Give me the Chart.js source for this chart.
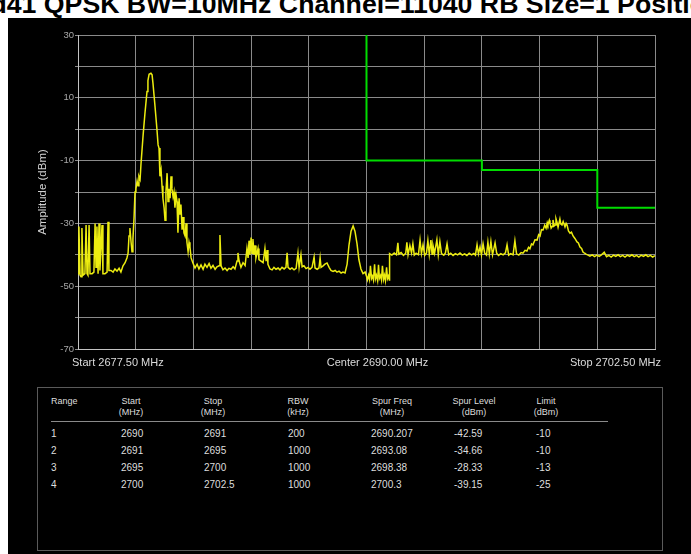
<!DOCTYPE html>
<html>
<head>
<meta charset="utf-8">
<script src="https://cdn.jsdelivr.net/npm/chart.js@4.4.0/dist/chart.umd.min.js"></script>
<style>
    body { margin: 0; width: 691px; height: 554px; background: #fff; overflow: hidden; position: relative; font-family: "Liberation Sans", Arial, sans-serif; }
    #title { position: absolute; top: -9px; left: -60px; white-space: nowrap; font: bold 26.7px/26px "Liberation Sans", Arial, sans-serif; color: #000; }
    #panel { position: absolute; left: 8px; top: 18px; width: 683px; height: 536px; background: #000; }
    #chartBox { position: absolute; left: 0; top: 0; width: 691px; height: 380px; }
    #table { position: absolute; left: 37px; top: 387px; width: 624px; height: 162px; border: 1px solid #5a5a5a; }
    .cell { position: absolute; white-space: nowrap; color: #dedede; }
    .head { font: 9px "Liberation Sans", Arial, sans-serif; text-align: center; }
    .val { font: 10px "Liberation Sans Narrow", "Liberation Sans", Arial, sans-serif; }
    #rule { position: absolute; left: 13px; top: 33px; width: 557px; height: 1px; background: #8a8a8a; }
</style>
</head>
<body>
<div id="title">Band41 QPSK BW=10MHz Channel=11040 RB Size=1 Position</div>
<div id="panel"></div>
<div id="chartBox"><canvas id="spectrum"></canvas></div>
<div id="table"><div id="rule"></div></div>
<script>
    /** Sweep trace (MHz / dBm) */
    const traceMHz = [
        // left noise with bursts
        2677.50, 2677.54, 2677.59, 2677.63, 2677.67, 2677.72, 2677.80, 2677.85, 2677.89, 2677.93, 2677.98,
        2678.02, 2678.11, 2678.19, 2678.24, 2678.28, 2678.32, 2678.37, 2678.41, 2678.45, 2678.54, 2678.58,
        2678.67, 2678.76, 2678.80, 2678.84, 2678.93, 2679.02, 2679.10, 2679.19, 2679.28, 2679.36, 2679.45,
        // carrier
        2679.54, 2679.62, 2679.67, 2679.71, 2679.75, 2679.80, 2679.84, 2679.88, 2679.93, 2679.97,
        2680.01, 2680.06, 2680.10, 2680.14, 2680.19, 2680.23, 2680.32, 2680.40, 2680.49, 2680.53,
        2680.58, 2680.66, 2680.71, 2680.75, 2680.84, 2680.92, 2680.97, 2681.01, 2681.05, 2681.10,
        2681.14, 2681.18, 2681.23, 2681.27, 2681.31, 2681.36, 2681.40, 2681.44, 2681.49, 2681.53,
        2681.57, 2681.62, 2681.66, 2681.70, 2681.75, 2681.79, 2681.83, 2681.88, 2681.92, 2681.96,
        2682.01, 2682.05, 2682.09, 2682.14, 2682.18, 2682.22, 2682.27, 2682.31, 2682.35, 2682.40,
        2682.48, 2682.57,
        // floor up to the band edge
        2682.66, 2682.74, 2682.83, 2682.92, 2683.00, 2683.09, 2683.18, 2683.26, 2683.35, 2683.44,
        2683.52, 2683.61, 2683.65, 2683.70, 2683.78, 2683.87, 2683.96, 2684.04, 2684.13, 2684.22,
        2684.30, 2684.39, 2684.43, 2684.48, 2684.56, 2684.65, 2684.74, 2684.82, 2684.87, 2684.91,
        2684.95, 2685.00, 2685.04, 2685.08, 2685.13, 2685.17, 2685.21, 2685.30, 2685.34, 2685.43,
        2685.52, 2685.60, 2685.65, 2685.69, 2685.73, 2685.82, 2685.91, 2685.99, 2686.08, 2686.17,
        2686.25, 2686.34, 2686.43, 2686.51, 2686.56, 2686.60, 2686.69, 2686.77, 2686.86, 2686.95,
        2687.03, 2687.08, 2687.16, 2687.21, 2687.29, 2687.38, 2687.47, 2687.55, 2687.64, 2687.73,
        2687.77, 2687.86, 2687.94, 2687.99, 2688.03, 2688.12, 2688.20, 2688.29, 2688.38, 2688.46,
        2688.55, 2688.64, 2688.72, 2688.81, 2688.90, 2688.98, 2689.07, 2689.16, 2689.24, 2689.33,
        2689.42, 2689.50, 2689.59, 2689.67, 2689.76, 2689.85, 2689.94,
        // range 1 (200 kHz RBW)
        2690.00, 2690.04, 2690.09, 2690.13, 2690.17, 2690.22, 2690.26, 2690.30, 2690.35, 2690.39, 2690.43, 2690.48,
        2690.52, 2690.56, 2690.61, 2690.65, 2690.69, 2690.74, 2690.78, 2690.82, 2690.87, 2690.91, 2690.95, 2690.99,
        // ranges 2-3
        2691.00, 2691.10, 2691.20, 2691.30, 2691.36, 2691.40, 2691.50, 2691.60, 2691.70, 2691.75,
        2691.80, 2691.88, 2691.95, 2692.01, 2692.07, 2692.15, 2692.25, 2692.32, 2692.38, 2692.45,
        2692.52, 2692.60, 2692.66, 2692.72, 2692.79, 2692.84, 2692.88, 2692.95, 2693.05, 2693.11,
        2693.18, 2693.25, 2693.35, 2693.42, 2693.49, 2693.56, 2693.65, 2693.75, 2693.85, 2693.95,
        2694.05, 2694.15, 2694.25, 2694.35, 2694.45, 2694.55, 2694.65, 2694.72, 2694.79, 2694.85,
        2694.92, 2694.98, 2695.05, 2695.12, 2695.20, 2695.26, 2695.32, 2695.39, 2695.46, 2695.57,
        2695.64, 2695.72, 2695.82, 2695.92, 2696.02, 2696.09, 2696.16, 2696.25, 2696.35, 2696.43,
        2696.50, 2696.60, 2696.70,
        // hump near 2698.4
        2696.78, 2696.87, 2696.95, 2697.02, 2697.08, 2697.15, 2697.21, 2697.30, 2697.39, 2697.46,
        2697.52, 2697.58, 2697.65, 2697.72, 2697.78, 2697.83, 2697.86, 2697.92, 2697.95, 2698.00,
        2698.04, 2698.08, 2698.13, 2698.17, 2698.21, 2698.25, 2698.30, 2698.38, 2698.42, 2698.47,
        2698.52, 2698.60, 2698.65, 2698.69, 2698.75, 2698.82, 2698.88, 2698.95, 2699.03, 2699.12,
        2699.18, 2699.25, 2699.32, 2699.38, 2699.45, 2699.51, 2699.60, 2699.68,
        // range 4
        2699.78, 2699.88, 2699.98, 2700.08, 2700.18, 2700.30, 2700.40, 2700.50, 2700.60, 2700.70,
        2700.80, 2700.90, 2701.00, 2701.10, 2701.20, 2701.30, 2701.40, 2701.50, 2701.60, 2701.70,
        2701.80, 2701.90, 2702.00, 2702.10, 2702.20, 2702.30, 2702.40, 2702.50
    ];
    const traceDbm = [
        -46, -31, -46.5, -47, -31.5, -46.5, -46, -30.5, -46, -46.5, -30.5,
        -46, -46, -45.5, -30, -44, -31, -46, -30, -45, -30.5, -46,
        -46, -45.5, -29.5, -45, -45, -45.5, -44.5, -45.2, -44.3, -45.5, -43.5,

        -42.5, -41, -39.5, -34, -31.5, -36, -39, -35, -28, -20,
        -19, -16.5, -18, -15, -16, -11, -2, 5, 12, 15.5,
        17.5, 17.8, 17.3, 14.5, 7, 0, -5, -6, -15, -13,
        -18, -22, -25, -29, -20, -14, -23, -19, -22, -15,
        -19, -21.5, -20, -25, -21, -23, -33, -22, -27, -24,
        -32, -28, -33, -34, -30, -36, -39, -36, -37.5, -41,
        -42.6, -44.2,

        -43, -44.5, -43.2, -44.6, -43, -44, -42.8, -44.3, -43.4, -44.6,
        -43.8, -43.5, -33.7, -43.5, -44.8, -44.2, -45, -44.3, -44.6, -43.8,
        -44.5, -42, -39.4, -42, -44, -42.5, -43.4, -38, -41, -35.5,
        -40, -34.5, -39.5, -35, -40, -37, -41, -38, -41.5, -42,
        -42.5, -38, -42, -38.5, -43, -44.5, -44.8, -44, -44.6, -44.2,
        -44.8, -44, -44.5, -44, -39.4, -44, -44.6, -44.2, -44.8, -44.3,
        -39.5, -44, -40, -43.8, -43.5, -44.4, -44, -44.6, -44, -40.7,
        -44.2, -44.6, -44.2, -41, -44, -43.5, -43, -42.6, -44, -45,
        -45.3, -45, -45.5, -45.2, -45.8, -45.5, -45.8, -43, -37, -32.5,
        -30.8, -32.5, -36.5, -41.5, -44.5, -46, -45.5,

        -46.8, -48, -46.5, -47.8, -43.5, -47.5, -46.8, -48, -43, -47.6, -46.5, -48.2,
        -43.2, -47.5, -46.6, -48, -43.5, -47.8, -46.5, -48.2, -44, -47.6, -46.8, -48,

        -39.6, -40.1, -39.4, -40.0, -36.2, -39.8, -39.3, -40.2, -39.5, -36.0,
        -40.0, -37.0, -39.4, -36.5, -40.1, -39.5, -40.0, -35.3, -39.6, -36.8,
        -40.2, -39.4, -35.5, -39.9, -35.3, -39.8, -37.0, -39.5, -35.2, -40.0,
        -35.8, -39.6, -40.1, -39.4, -36.5, -40.0, -39.5, -40.2, -39.6, -40.0,
        -39.4, -40.1, -39.7, -40.2, -39.5, -40.0, -39.6, -40.1, -36.8, -39.7,
        -37.5, -40.0, -36.5, -39.5, -40.1, -36.0, -39.8, -35.8, -40.0, -36.2,
        -39.5, -40.2, -39.6, -40.0, -39.4, -36.8, -40.1, -39.6, -40.0, -35.5,
        -39.7, -40.1, -39.3,

        -39.5, -38.6, -38.8, -37.6, -38.1, -36.5, -36.8, -35.2, -35.3, -33.6,
        -34.0, -32.0, -32.1, -30.6, -31.5, -29.8, -30.5, -29.0, -29.9, -31.5,
        -31.0, -28.9, -30.8, -30.5, -28.5, -29.5, -31.2, -28.6, -30.2, -30.5,
        -29.4, -31.1, -30.0, -30.5, -32.4, -33.1, -32.8, -34.0, -34.8, -35.9,
        -36.2, -37.5, -38.0, -39.1, -39.5, -39.8, -40.1, -40.4,

        -40.0, -40.6, -40.1, -40.5, -40.0, -39.2, -40.6, -40.2, -40.7, -40.1,
        -40.5, -40.0, -40.6, -40.2, -40.7, -40.1, -40.5, -40.0, -40.6, -40.2,
        -40.7, -40.1, -40.5, -40.0, -40.6, -40.2, -40.7, -40.3
    ];

    /** Limit mask */
    const limitMHz = [2690, 2690, 2695, 2695, 2700, 2700, 2702.5];
    const limitDbm = [30, -10, -10, -13, -13, -25, -25];

    /** Axis labels */
    const yTickValues = [30, 10, -10, -30, -50, -70];
    const freqMarks = [2677.5, 2690, 2702.5];
    const freqMarkText = ["Start 2677.50 MHz", "Center 2690.00 MHz", "Stop 2702.50 MHz"];

    /** Spur table */
    const tableHead = [["Range", ""], ["Start", "(MHz)"], ["Stop", "(MHz)"], ["RBW", "(kHz)"], ["Spur Freq", "(MHz)"], ["Spur Level", "(dBm)"], ["Limit", "(dBm)"]];
    const rangeNo = ["1", "2", "3", "4"];
    const startMHz = ["2690", "2691", "2695", "2700"];
    const stopMHz = ["2691", "2695", "2700", "2702.5"];
    const rbwKHz = ["200", "1000", "1000", "1000"];
    const spurFreq = ["2690.207", "2693.08", "2698.38", "2700.3"];
    const spurLevel = ["-42.59", "-34.66", "-28.33", "-39.15"];
    const limitLevel = ["-10", "-10", "-13", "-25"];

    // marker label placement (align, shift in px)
    const markAlign = ["left", "center", "right"];
    const markShift = [-6, 11, 6];

    const freqLabels = {
        id: "freqLabels",
        afterDraw(chart) {
            const { ctx, chartArea } = chart;
            const x = chart.scales.x;
            ctx.save();
            ctx.font = '11px "Liberation Sans", Arial, sans-serif';
            ctx.fillStyle = "#dcdcdc";
            ctx.textBaseline = "middle";
            freqMarks.forEach((v, i) => {
                ctx.textAlign = markAlign[i];
                ctx.fillText(freqMarkText[i], x.getPixelForValue(v) + markShift[i], chartArea.bottom + 14);
            });
            ctx.restore();
        }
    };

    new Chart(document.getElementById("spectrum").getContext("2d"), {
        type: "line",
        data: {
            datasets: [
                {
                    label: "Limit",
                    data: limitMHz.map((f, i) => ({ x: f, y: limitDbm[i] })),
                    borderColor: "#00dc00",
                    borderWidth: 2,
                    pointRadius: 0,
                    tension: 0
                },
                {
                    label: "Trace",
                    data: traceMHz.map((f, i) => ({ x: f, y: traceDbm[i] })),
                    borderColor: "#ecec10",
                    borderWidth: 1.5,
                    pointRadius: 0,
                    tension: 0
                }
            ]
        },
        options: {
            responsive: true,
            maintainAspectRatio: false,
            animation: false,
            layout: { padding: { left: 32, top: 35, right: 36, bottom: 31 } },
            plugins: { legend: { display: false }, tooltip: { enabled: false } },
            scales: {
                x: {
                    type: "linear",
                    min: 2677.5,
                    max: 2702.5,
                    ticks: { display: false, stepSize: 2.5 },
                    grid: { color: "#8a8a8a", drawTicks: false },
                    border: { color: "#c4c4c4" }
                },
                y: {
                    min: -70,
                    max: 30,
                    afterFit(scale) { scale.width = 46; },
                    ticks: {
                        stepSize: 10,
                        autoSkip: false,
                        padding: 1,
                        color: "#a8a8a8",
                        font: { family: '"Liberation Sans Narrow", "Liberation Sans", Arial', size: 9.5 },
                        callback: v => yTickValues.includes(v) ? String(v) : ""
                    },
                    grid: { color: "#8a8a8a", tickLength: 3 },
                    border: { color: "#c4c4c4" },
                    title: {
                        display: true,
                        text: "Amplitude (dBm)",
                        color: "#d2d2d2",
                        font: { family: '"Liberation Sans", Arial', size: 11.5 },
                        padding: { top: 4, bottom: 4 }
                    }
                }
            }
        },
        plugins: [freqLabels]
    });

    /** Build the spur table */
    const table = document.getElementById("table");
    const headCenter = [null, 93, 175, 260, 354, 436, 508];
    const colLeft = [13, 83, 166, 250, 333, 416, 498];
    function addCell(text, cls, left, top, center) {
        const d = document.createElement("div");
        d.className = "cell " + cls;
        d.textContent = text;
        d.style.top = top + "px";
        if (center) {
            d.style.left = (left - 40) + "px";
            d.style.width = "80px";
        } else {
            d.style.left = left + "px";
        }
        table.appendChild(d);
    }
    tableHead.forEach((h, i) => {
        const center = headCenter[i] !== null;
        const left = center ? headCenter[i] : colLeft[i];
        addCell(h[0], "head", left, 8, center);
        if (h[1]) addCell(h[1], "head", left, 19, center);
    });
    const cols = [rangeNo, startMHz, stopMHz, rbwKHz, spurFreq, spurLevel, limitLevel];
    cols.forEach((col, c) => {
        col.forEach((txt, r) => addCell(txt, "val", colLeft[c], 40 + r * 17, false));
    });
</script>
</body>
</html>
